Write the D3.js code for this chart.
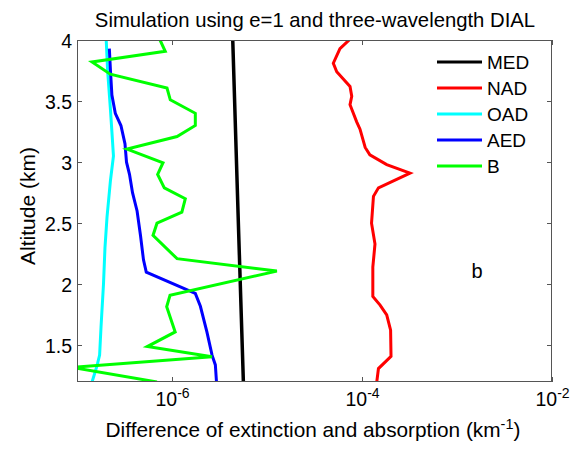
<!DOCTYPE html>
<html>
<head>
<meta charset="utf-8">
<script src="https://cdn.jsdelivr.net/npm/d3@7"></script>
<style>
  body { margin: 0; background: #fff; }
  svg { display: block; font-family: "Liberation Sans", Arial, sans-serif; }
</style>
</head>
<body>
<script>
// altitude (km) and value (km^-1) for each curve
var medAlt = [4.0, 2.6, 1.2];
var medVal = [4.36e-6, 4.95e-6, 5.64e-6];

var nadAlt = [4.0, 3.93, 3.81, 3.74, 3.62, 3.54, 3.47, 3.33, 3.27, 3.12, 3.06, 2.98, 2.91, 2.79, 2.72, 2.5, 2.33, 2.14, 1.9, 1.83, 1.75, 1.625, 1.41, 1.31, 1.2];
var nadVal = [7.34e-5, 5.86e-5, 4.99e-5, 5.42e-5, 7.48e-5, 7.80e-5, 7.48e-5, 8.79e-5, 9.53e-5, 1.08e-4, 1.21e-4, 1.82e-4, 3.20e-4, 1.49e-4, 1.32e-4, 1.26e-4, 1.37e-4, 1.30e-4, 1.30e-4, 1.55e-4, 1.82e-4, 2.00e-4, 2.02e-4, 1.49e-4, 1.43e-4];

var oadAlt = [4.0, 3.75, 3.45, 3.25, 3.05, 2.85, 2.55, 2.3, 2.0, 1.65, 1.42, 1.33, 1.2];
var oadVal = [2.03e-7, 2.10e-7, 2.24e-7, 2.33e-7, 2.42e-7, 2.25e-7, 2.07e-7, 1.97e-7, 1.90e-7, 1.79e-7, 1.73e-7, 1.62e-7, 1.44e-7];

var aedAlt = [3.93, 3.75, 3.55, 3.4, 3.3, 3.15, 3.0, 2.9, 2.75, 2.6, 2.4, 2.2, 2.1, 1.925, 1.82, 1.61, 1.42, 1.34, 1.2];
var aedVal = [2.19e-7, 2.25e-7, 2.33e-7, 2.53e-7, 2.90e-7, 3.20e-7, 3.32e-7, 3.57e-7, 3.84e-7, 4.29e-7, 4.66e-7, 5.01e-7, 5.36e-7, 1.76e-6, 1.99e-6, 2.33e-6, 2.64e-6, 2.86e-6, 2.94e-6];

var bAlt = [4.0, 3.907, 3.82, 3.72, 3.607, 3.51, 3.4, 3.3, 3.21, 3.107, 2.995, 2.9, 2.79, 2.7, 2.59, 2.5, 2.4, 2.21, 2.108, 1.91, 1.816, 1.61, 1.49, 1.406, 1.32, 1.2];
var bVal = [7.48e-7, 8.49e-7, 1.44e-7, 2.24e-7, 8.86e-7, 9.59e-7, 1.76e-6, 1.76e-6, 1.13e-6, 3.36e-7, 8.04e-7, 7.06e-7, 8.30e-7, 1.38e-6, 1.27e-6, 6.95e-7, 6.31e-7, 1.13e-6, 1.27e-5, 9.53e-7, 8.79e-7, 1.08e-6, 5.50e-7, 2.64e-6, 8.86e-8, 6.95e-7];

var seriesNames = ["MED", "NAD", "OAD", "AED", "B"];
var seriesColors = ["#000000", "#ff0000", "#00ffff", "#0000ff", "#00ff00"];
var yTicks = [1.5, 2, 2.5, 3, 3.5, 4];
var xTicks = [1e-6, 1e-4, 1e-2];

var series = [
    {alt: medAlt, val: medVal},
    {alt: nadAlt, val: nadVal},
    {alt: oadAlt, val: oadVal},
    {alt: aedAlt, val: aedVal},
    {alt: bAlt, val: bVal}
];

var width = 573, height = 449;
var plotLeft = 77, plotRight = 552, plotTop = 40, plotBottom = 382;

var svg = d3.select("body").append("svg")
    .attr("width", width)
    .attr("height", height);

var x = d3.scaleLog().domain([1e-7, 1e-2]).range([plotLeft, plotRight]);
var y = d3.scaleLinear().domain([1.2, 4]).range([plotBottom, plotTop]);

svg.append("clipPath").attr("id", "plot")
    .append("rect")
    .attr("x", plotLeft).attr("y", plotTop)
    .attr("width", plotRight - plotLeft).attr("height", plotBottom - plotTop);

var line = d3.line()
    .x(function (d) { return x(d[1]); })
    .y(function (d) { return y(d[0]); });

var curves = svg.append("g").attr("clip-path", "url(#plot)");
series.forEach(function (s, i) {
    curves.append("path")
        .datum(d3.zip(s.alt, s.val))
        .attr("d", line)
        .attr("fill", "none")
        .attr("stroke", seriesColors[i])
        .attr("stroke-width", i == 0 ? 3.5 : 3)
        .attr("stroke-linejoin", "miter");
});

// box with inward ticks on all sides
var axisColor = "#555";
svg.append("rect")
    .attr("x", plotLeft + 0.5).attr("y", plotTop + 0.5)
    .attr("width", plotRight - plotLeft - 1).attr("height", plotBottom - plotTop - 1)
    .attr("fill", "none")
    .attr("stroke", axisColor);

var tickLen = 5;
yTicks.forEach(function (t) {
    var py = Math.round(y(t)) + 0.5;
    svg.append("line").attr("x1", plotLeft).attr("x2", plotLeft + tickLen)
        .attr("y1", py).attr("y2", py).attr("stroke", axisColor);
    svg.append("line").attr("x1", plotRight - tickLen).attr("x2", plotRight)
        .attr("y1", py).attr("y2", py).attr("stroke", axisColor);
    svg.append("text")
        .attr("x", plotLeft - 5).attr("y", py + 7)
        .attr("text-anchor", "end")
        .attr("font-size", 19.5)
        .text(t);
});

xTicks.forEach(function (t) {
    var px = Math.round(x(t)) + 0.5;
    svg.append("line").attr("x1", px).attr("x2", px)
        .attr("y1", plotBottom - tickLen).attr("y2", plotBottom).attr("stroke", axisColor);
    svg.append("line").attr("x1", px).attr("x2", px)
        .attr("y1", plotTop).attr("y2", plotTop + tickLen).attr("stroke", axisColor);
    var lbl = svg.append("text")
        .attr("x", px).attr("y", 406)
        .attr("text-anchor", "middle")
        .attr("font-size", 19.5);
    lbl.append("tspan").text("10");
    lbl.append("tspan")
        .attr("dy", -8).attr("font-size", 14)
        .text(Math.round(Math.log10(t)));
});

svg.append("text")
    .attr("x", 315).attr("y", 27)
    .attr("text-anchor", "middle")
    .attr("font-size", 20.3)
    .text("Simulation using e=1 and three-wavelength DIAL");

var xl = svg.append("text")
    .attr("x", 313).attr("y", 437)
    .attr("text-anchor", "middle")
    .attr("font-size", 20.8);
xl.append("tspan").text("Difference of extinction and absorption (km");
xl.append("tspan").attr("dy", -8).attr("font-size", 14.5).text("-1");
xl.append("tspan").attr("dy", 8).text(")");

svg.append("text")
    .attr("transform", "translate(35,206) rotate(-90)")
    .attr("text-anchor", "middle")
    .attr("font-size", 21)
    .text("Altitude (km)");

svg.append("text")
    .attr("x", 477).attr("y", 278)
    .attr("text-anchor", "middle")
    .attr("font-size", 20)
    .text("b");

// legend
var legend = svg.append("g");
seriesNames.forEach(function (name, i) {
    var ly = 62 + i * 26;
    legend.append("line")
        .attr("x1", 437).attr("x2", 482)
        .attr("y1", ly).attr("y2", ly)
        .attr("stroke", seriesColors[i])
        .attr("stroke-width", 3);
    legend.append("text")
        .attr("x", 487).attr("y", ly + 7)
        .attr("font-size", 19)
        .text(name);
});
</script>
</body>
</html>
